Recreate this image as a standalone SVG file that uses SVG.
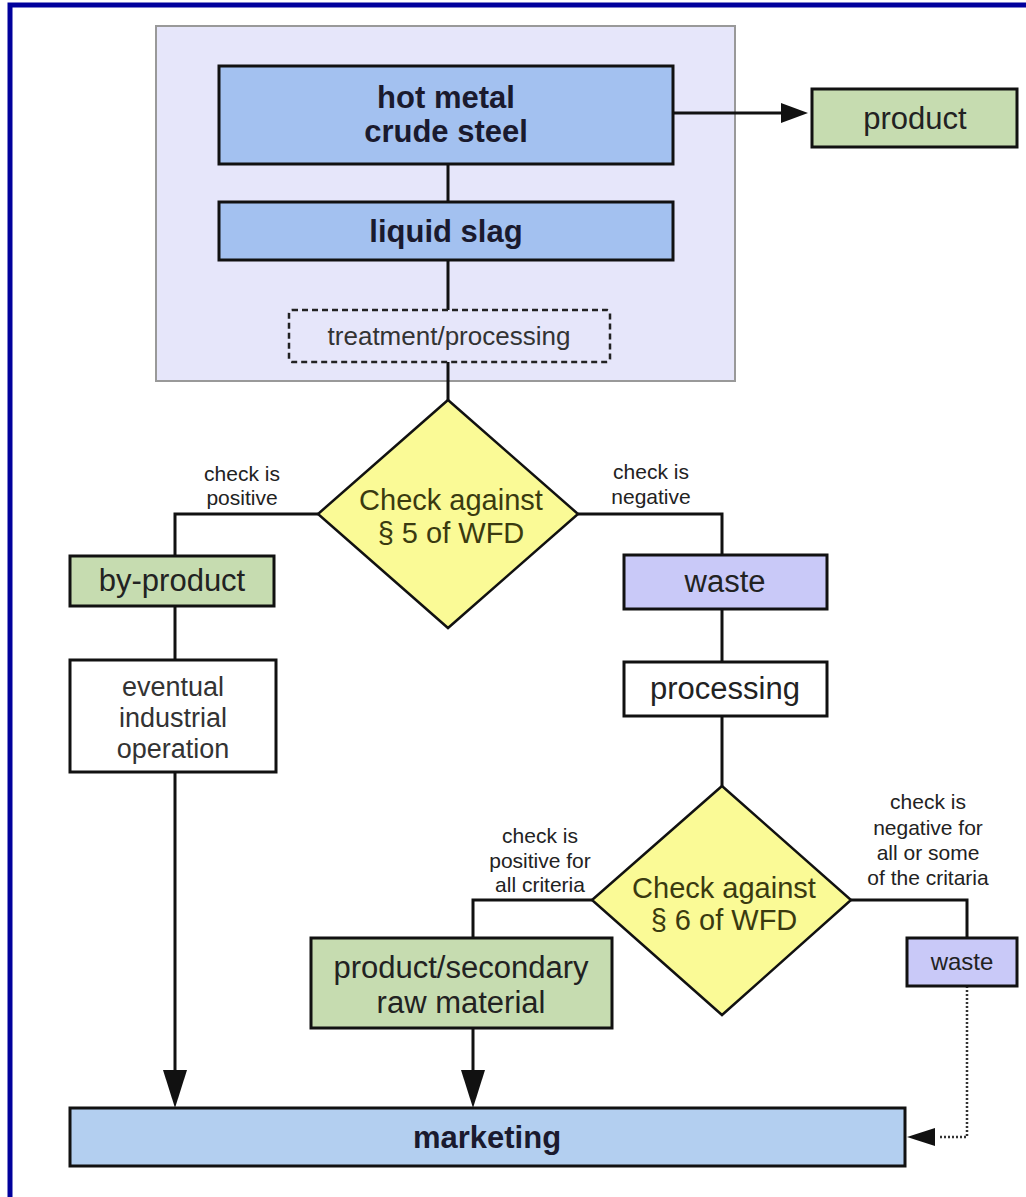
<svg xmlns="http://www.w3.org/2000/svg" width="1026" height="1197" viewBox="0 0 1026 1197">
<style>
.box{stroke:#111;stroke-width:3}
.blue{fill:#a3c1f0}
.mkt{fill:#b3cff0}
.green{fill:#c6dcb0}
.lav{fill:#c9c9f8}
.white{fill:#fff}
.dia{fill:#fafa96;stroke:#111;stroke-width:2.5}
.t{font-family:"Liberation Sans",Arial,sans-serif;text-anchor:middle}
.big{font-size:31px;fill:#222}
.bold{font-size:31px;font-weight:bold;fill:#1a1a2e}
.dt{font-size:29px;fill:#3a3a10}
.lbl{font-size:21px;fill:#222}
.ln{stroke:#111;stroke-width:3;fill:none}
</style>
<rect x="0" y="0" width="1026" height="1197" fill="#fff"/>
<rect x="10" y="5" width="1040" height="1220" fill="none" stroke="#00009c" stroke-width="5"/>
<rect x="156" y="26" width="579" height="355" fill="#e6e6fa" stroke="#999" stroke-width="2"/>

<g id="connectors">
<line class="ln" x1="448" y1="164" x2="448" y2="202"/>
<line class="ln" x1="448" y1="260" x2="448" y2="310"/>
<line class="ln" x1="448" y1="362" x2="448" y2="400"/>
<line class="ln" x1="673" y1="113" x2="784" y2="113"/>
<path d="M781,103 L808,113 L781,123 z" fill="#111"/>
<polyline class="ln" points="318,514 175,514 175,556"/>
<line class="ln" x1="175" y1="606" x2="175" y2="660"/>
<line class="ln" x1="175" y1="772" x2="175" y2="1075"/>
<path d="M163,1070 L175,1108 L187,1070 z" fill="#111"/>
<polyline class="ln" points="578,514 722,514 722,555"/>
<line class="ln" x1="722" y1="609" x2="722" y2="662"/>
<line class="ln" x1="722" y1="716" x2="722" y2="786"/>
<polyline class="ln" points="592,900 473,900 473,938"/>
<line class="ln" x1="473" y1="1028" x2="473" y2="1075"/>
<path d="M461,1070 L473,1108 L485,1070 z" fill="#111"/>
<polyline class="ln" points="851,900 967,900 967,938"/>
<polyline points="967,986 967,1137 940,1137" fill="none" stroke="#333" stroke-width="2.5" stroke-dasharray="2,2"/>
<path d="M935,1128 L907,1137 L935,1146 z" fill="#111"/>
</g>

<g id="hot-metal">
<rect class="box blue" x="219" y="66" width="454" height="98"/>
<text class="t bold" x="446" y="108">hot metal</text>
<text class="t bold" x="446" y="142">crude steel</text>
</g>
<g id="product">
<rect class="box green" x="812" y="89" width="205" height="58"/>
<text class="t big" x="915" y="129">product</text>
</g>
<g id="liquid-slag">
<rect class="box blue" x="219" y="202" width="454" height="58"/>
<text class="t bold" x="446" y="242">liquid slag</text>
</g>
<g id="treatment">
<rect x="289" y="310" width="321" height="52" fill="none" stroke="#222" stroke-width="2.5" stroke-dasharray="6,4" rx="3"/>
<text class="t" x="449" y="345" font-size="26" fill="#333">treatment/processing</text>
</g>
<g id="check5">
<polygon class="dia" points="448,400 578,514 448,628 318,514"/>
<text class="t dt" x="451" y="510">Check against</text>
<text class="t dt" x="451" y="543">§ 5 of WFD</text>
</g>
<g id="label-pos">
<text class="t lbl" x="242" y="481">check is</text>
<text class="t lbl" x="242" y="505">positive</text>
</g>
<g id="label-neg">
<text class="t lbl" x="651" y="479">check is</text>
<text class="t lbl" x="651" y="504">negative</text>
</g>
<g id="by-product">
<rect class="box green" x="70" y="556" width="204" height="50"/>
<text class="t big" x="172" y="591">by-product</text>
</g>
<g id="eventual">
<rect class="box white" x="70" y="660" width="206" height="112"/>
<text class="t" x="173" y="696" font-size="27" fill="#333">eventual</text>
<text class="t" x="173" y="727" font-size="27" fill="#333">industrial</text>
<text class="t" x="173" y="758" font-size="27" fill="#333">operation</text>
</g>
<g id="waste">
<rect class="box lav" x="624" y="555" width="203" height="54"/>
<text class="t big" x="725" y="592">waste</text>
</g>
<g id="processing">
<rect class="box white" x="624" y="662" width="203" height="54"/>
<text class="t big" x="725" y="699">processing</text>
</g>
<g id="check6">
<polygon class="dia" points="722,786 851,900 722,1015 592,900"/>
<text class="t dt" x="724" y="898">Check against</text>
<text class="t dt" x="724" y="930">§ 6 of WFD</text>
</g>
<g id="label-pos-all">
<text class="t lbl" x="540" y="843">check is</text>
<text class="t lbl" x="540" y="868">positive for</text>
<text class="t lbl" x="540" y="892">all criteria</text>
</g>
<g id="label-neg-some">
<text class="t lbl" x="928" y="809">check is</text>
<text class="t lbl" x="928" y="835">negative for</text>
<text class="t lbl" x="928" y="860">all or some</text>
<text class="t lbl" x="928" y="885">of the critaria</text>
</g>
<g id="secondary">
<rect class="box green" x="311" y="938" width="301" height="90"/>
<text class="t big" x="461" y="978">product/secondary</text>
<text class="t big" x="461" y="1013">raw material</text>
</g>
<g id="waste2">
<rect class="box lav" x="907" y="938" width="110" height="48"/>
<text class="t" x="962" y="970" font-size="24" fill="#222">waste</text>
</g>
<g id="marketing">
<rect class="box mkt" x="70" y="1108" width="835" height="58"/>
<text class="t bold" x="487" y="1148">marketing</text>
</g>
</svg>
